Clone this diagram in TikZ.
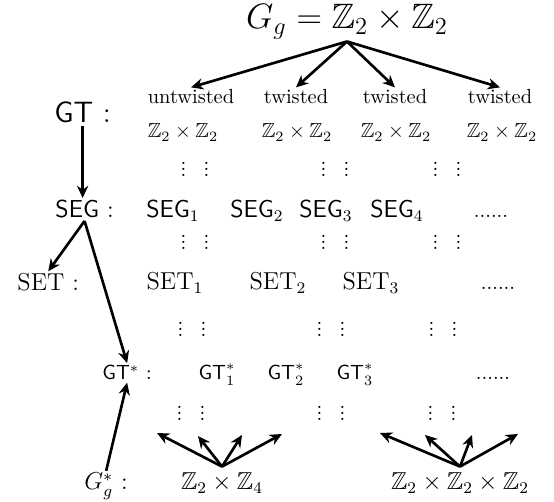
\documentclass[tikz,border=0pt]{standalone}
\usepackage{amsmath,amssymb}
\usepackage{tikz}
\usetikzlibrary{arrows.meta}
\newcommand{\vd}{\vbox{\baselineskip3pt\lineskiplimit0pt\hbox{.}\hbox{.}\hbox{.}}}

\begin{document}
\begin{tikzpicture}[x=0.49pt, y=-0.49pt, every node/.style={inner sep=1pt},
  arr/.style={-{Stealth[length=6pt,width=5.5pt]}, line width=1.3pt},
  row/.style={anchor=base}, lab/.style={anchor=base west}]
\useasboundingbox (0,0) rectangle (554,502);
% Group
\node[row, inner sep=0pt] (gg) at (347,29) {\LARGE $G_g=\mathbb{Z}_2\times\mathbb{Z}_2$};
% Labels
\node[lab] (gt) at (52,123) {\Large\textsf{GT} :};
\node[lab] (seg) at (53,218) {\large\textsf{SEG} :};
\node[lab] (set) at (15,291) {\large SET :};
\node[lab] (gts) at (100,380) {\textsf{GT}$^*$ :};
\node[lab] (ggs) at (82,490) {\large $G_g^*$ :};
% GT row
\node[row] (untw) at (191,104) {untwisted};
\node[row] (tw1) at (296,104) {twisted};
\node[row] (tw2) at (395,104) {twisted};
\node[row] (tw3) at (500,104) {twisted};
\node[row] (z1) at (183,138) {$\mathbb{Z}_2\times\mathbb{Z}_2$};
\node[row] (z2) at (297,138) {$\mathbb{Z}_2\times\mathbb{Z}_2$};
\node[row] (z3) at (396,138) {$\mathbb{Z}_2\times\mathbb{Z}_2$};
\node[row] (z4) at (502,138) {$\mathbb{Z}_2\times\mathbb{Z}_2$};
% SEG row
\node[row] (seg1) at (173,218) {\large $\mathsf{SEG}_1$};
\node[row] (seg2) at (257,218) {\large $\mathsf{SEG}_2$};
\node[row] (seg3) at (326,218) {\large $\mathsf{SEG}_3$};
\node[row] (seg4) at (397,218) {\large $\mathsf{SEG}_4$};
\node[row] (segx) at (491,218) {......};
% SET row
\node[row] (set1) at (175,290) {\large $\mathrm{SET}_1$};
\node[row] (set2) at (278,290) {\large $\mathrm{SET}_2$};
\node[row] (set3) at (371,290) {\large $\mathrm{SET}_3$};
\node[row] (setx) at (498,290) {......};
% GT* row
\node[row] (gts1) at (217,380) {$\mathsf{GT}^*_1$};
\node[row] (gts2) at (286,380) {$\mathsf{GT}^*_2$};
\node[row] (gts3) at (355,380) {$\mathsf{GT}^*_3$};
\node[row] (gtsx) at (493,380) {......};
% Gg* row
\node[row] (z24) at (222,490) {\large $\mathbb{Z}_2\times\mathbb{Z}_4$};
\node[row] (z222) at (460,490) {\large $\mathbb{Z}_2\times\mathbb{Z}_2\times\mathbb{Z}_2$};
% Dots
\foreach \x/\y [count=\i] in {195/177, 335/177, 447/177, 195/250, 335/250, 447/250,
    192/337, 331/337, 443/337, 191/421, 331/421, 442/421}
  \node[row, inner sep=0pt] (v\i) at (\x,\y) {\vd\hspace{8.5pt}\vd};
% Fan tips
\coordinate (a1) at (157,433);
\coordinate (a2) at (198,436);
\coordinate (a3) at (242,435);
\coordinate (a4) at (282,434);
\coordinate (b1) at (380,433);
\coordinate (b2) at (425,435);
\coordinate (b3) at (472,435);
\coordinate (b4) at (518,434);
% Arrows
\foreach \t in {untw, tw1, tw2, tw3}
  \draw[arr] ([yshift=-1pt]gg.south) -- (\t.north);
\draw[arr] (gt.south) -- (gt.south |- seg.north);
\draw[arr] (seg.south) -- (set.north);
\draw[arr] (seg.south) -- (gts.north);
\draw[arr] (ggs.north) -- (gts.south);
\foreach \t in {a1, a2, a3, a4}
  \draw[arr] ([yshift=2pt]z24.north) -- (\t);
\foreach \t in {b1, b2, b3, b4}
  \draw[arr] ([yshift=2pt]z222.north) -- (\t);
\end{tikzpicture}
\end{document}
